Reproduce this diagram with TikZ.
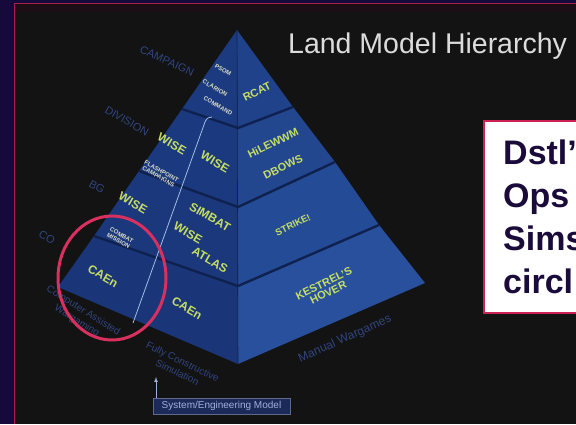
\documentclass[tikz,border=0pt]{standalone}
\usepackage{fontspec}
\setmainfont{Liberation Sans}
\usetikzlibrary{arrows,positioning}
\definecolor{outerbg}{HTML}{160A3A}
\definecolor{panelbg}{HTML}{131313}
\definecolor{topband}{HTML}{1B0E14}
\definecolor{framered}{HTML}{A8204C}
\definecolor{notered}{HTML}{CC2255}
\definecolor{noteink}{HTML}{1A0B3B}
\definecolor{titlegrey}{HTML}{DCDCDC}
\definecolor{tierline}{HTML}{0F214F}
\definecolor{modelgreen}{HTML}{C5DE62}
\definecolor{smallwhite}{HTML}{D8DCC8}
\definecolor{echelon}{HTML}{31457F}
\definecolor{ringpink}{HTML}{D8305F}
\definecolor{splitblue}{HTML}{A4BDE3}
\definecolor{sysfill}{HTML}{1B2A58}
\definecolor{systext}{HTML}{9FB0E0}

\begin{document}
\begin{tikzpicture}[x=1pt,y=-1pt,
  model/.style={text=modelgreen,inner sep=0pt,font=\bfseries\fontsize{12}{12}\selectfont},
  leftmodel/.style={model,rotate=-30},
  rightmodel/.style={model,rotate=26,font=\bfseries\fontsize{11}{10}\selectfont},
  tiny/.style={text=smallwhite,inner sep=0pt,align=center,rotate=-30,font=\bfseries\fontsize{6}{6}\selectfont},
  echelonlbl/.style={text=echelon,inner sep=0pt,font=\fontsize{11}{11}\selectfont},
  bottomlbl/.style={echelonlbl,align=center,font=\fontsize{10}{12}\selectfont}]
  \clip (0,0) rectangle (576,424);
  \fill[outerbg] (0,0) rectangle (576,424);
  \fill[panelbg] (15,4) rectangle (576,424);
  \fill[topband] (15,4) rectangle (576,12);
  \draw[framered,line width=1.2pt] (14.6,424) -- (14.6,3.6) -- (576,3.6);

  \coordinate (apex) at (237,30);
  \coordinate (lcorner) at (58,287);
  \coordinate (front) at (238,364);
  \coordinate (rcorner) at (425,283);
  \coordinate (r1) at (238,128);
  \coordinate (r2) at (238,207);
  \coordinate (r3) at (238,286);
  \coordinate (l1) at (182,109);
  \coordinate (l2) at (139,171);
  \coordinate (l3) at (94,236);
  \coordinate (q1) at (293,107);
  \coordinate (q2) at (335,162);
  \coordinate (q3) at (379,225);

  % left face, tier by tier
  \fill[fill={rgb,255:red,28;green,58;blue,128}] (apex) -- (l1) -- (r1) -- cycle;
  \fill[fill={rgb,255:red,27;green,57;blue,126}] (l1) -- (l2) -- (r2) -- (r1) -- cycle;
  \fill[fill={rgb,255:red,27;green,56;blue,124}] (l2) -- (l3) -- (r3) -- (r2) -- cycle;
  \fill[fill={rgb,255:red,26;green,54;blue,121}] (l3) -- (lcorner) -- (front) -- (r3) -- cycle;
  % right face
  \fill[fill={rgb,255:red,31;green,66;blue,139}] (apex) -- (r1) -- (q1) -- cycle;
  \fill[fill={rgb,255:red,34;green,71;blue,143}] (q1) -- (r1) -- (r2) -- (q2) -- cycle;
  \fill[fill={rgb,255:red,36;green,75;blue,149}] (q2) -- (r2) -- (r3) -- (q3) -- cycle;
  \fill[fill={rgb,255:red,40;green,80;blue,156}] (q3) -- (r3) -- (front) -- (rcorner) -- cycle;

  \foreach \t in {1,2,3}
    \draw[tierline,line width=2.4pt] (l\t) -- (r\t) -- (q\t);
  \draw[tierline,line width=0.6pt] (apex) -- (front);

  \coordinate (splitfoot) at (133,323);
  \coordinate (splithead) at (212,117);
  \draw[splitblue,line width=0.8pt] (splitfoot) -- (205,122) .. controls (207,118) .. (splithead);

  \node[tiny] (psom) at (223,70) {PSOM};
  \node[tiny] (clarion) at (215,88) {CLARION};
  \node[tiny] (command) at (218,106) {COMMAND};
  \node[rightmodel] (rcat) at (257,92) {RCAT};
  \node[leftmodel] (wisea) at (172,144) {WISE};
  \node[leftmodel] (wiseb) at (215,162) {WISE};
  \node[rightmodel] (hilewwm) at (273,143) {HiLEWWM};
  \node[rightmodel] (dbows) at (283,167) {DBOWS};
  \node[tiny] (flashpoint) at (160,174) {FLASHPOINT\\CAMPAIGNS};
  \node[leftmodel] (wisec) at (133,203) {WISE};
  \node[leftmodel] (simbat) at (210,217) {SIMBAT};
  \node[leftmodel] (wised) at (188,233) {WISE};
  \node[leftmodel] (atlas) at (210,260) {ATLAS};
  \node[rightmodel,font=\bfseries\fontsize{9.5}{10}\selectfont] (strike) at (293,225) {STRIKE!};
  \node[tiny] (combat) at (120,238) {COMBAT\\MISSION};
  \node[leftmodel] (caena) at (103,276) {CAEn};
  \node[leftmodel] (caenb) at (187,308) {CAEn};
  \node[rightmodel,align=center] (kestrel) at (326,288) {KESTREL'S\\HOVER};

  \node[echelonlbl,rotate=-24] (campaign) at (167,61) {CAMPAIGN};
  \node[echelonlbl,rotate=-30] (division) at (127,121) {DIVISION};
  \node[echelonlbl,rotate=-30] (bg) at (97,187) {BG};
  \node[echelonlbl,rotate=-30] (coy) at (47,237) {CO};
  \node[bottomlbl,rotate=-32] (cawg) at (80,316) {Computer Assisted\\Wargaming};
  \node[bottomlbl,rotate=-26] (fcs) at (180,367) {Fully Constructive\\Simulation};
  \node[echelonlbl,rotate=24,font=\fontsize{12}{12}\selectfont] (manual) at (345,339) {Manual Wargames};

  \draw[ringpink,line width=3pt] (112,278) ellipse [x radius=54, y radius=62];

  \node[fill=sysfill,draw=sysfill!70!white,text=systext,inner sep=1pt,
    minimum width=137pt,minimum height=16pt,font=\fontsize{10}{10}\selectfont]
    (sysmodel) at (221.5,406) {System/Engineering Model};
  \coordinate (arrowtip) at (156,377);
  \draw[systext,line width=0.7pt,-latex] (sysmodel.north -| arrowtip) -- (arrowtip);

  \node[anchor=base west,text=titlegrey,inner sep=0pt,font=\fontsize{28.5}{28.5}\selectfont]
    (title) at (288,53) {Land Model Hierarchy};

  \node[fill=white,draw=notered,line width=2pt,anchor=north west,
    minimum width=110pt,minimum height=192pt] (notebox) at (483,120) {};
  \node[below right=19.5pt and 20pt of notebox.north west,inner sep=0pt,align=left,
    text=noteink,font=\bfseries\fontsize{34}{43}\selectfont] (note) {Dstl'\\Ops\\Sims\\circl};
\end{tikzpicture}
\end{document}
